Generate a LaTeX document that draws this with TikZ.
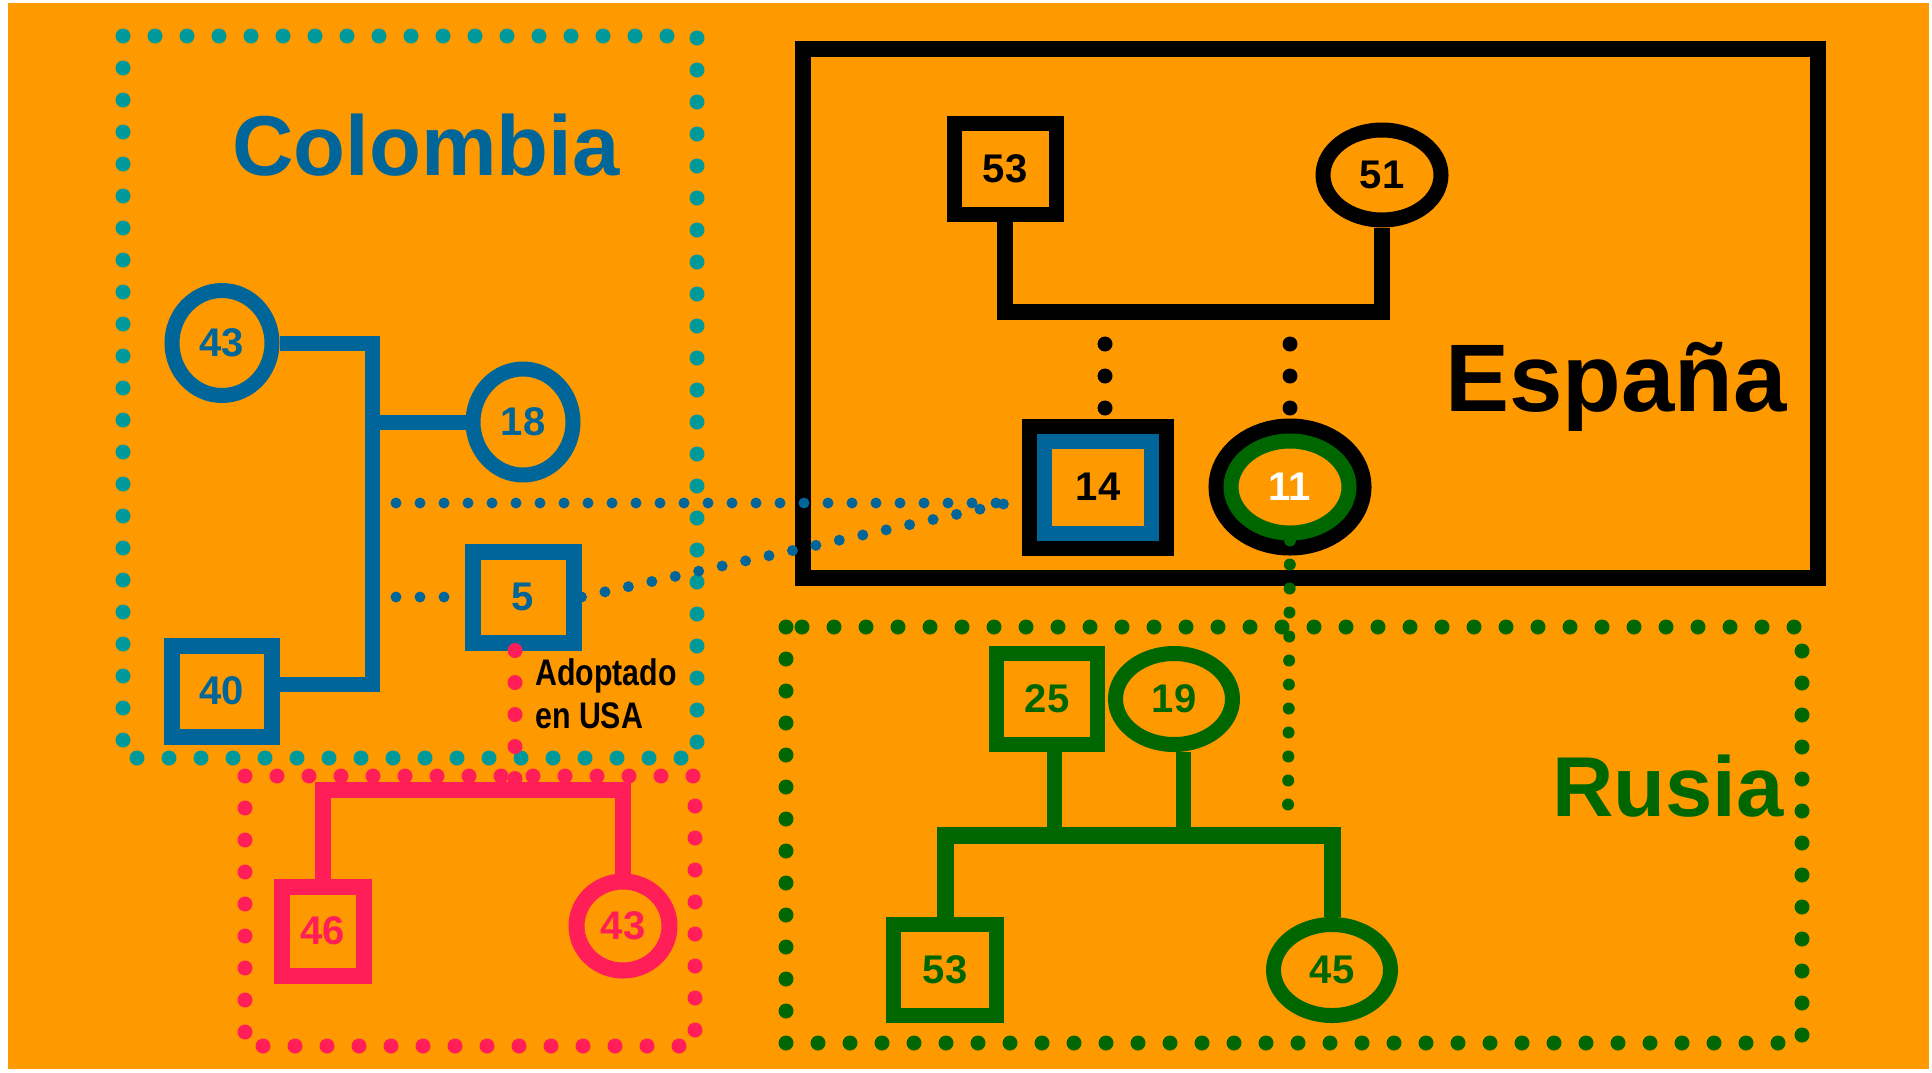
\documentclass[tikz,border=0pt]{standalone}
\usepackage{fontspec}
\setmainfont{Liberation Sans}
\newfontfamily\narrowfont[FakeStretch=0.82]{Liberation Sans}
\usepackage{tikz}
\usetikzlibrary{shapes.geometric}
\definecolor{fondo}{HTML}{FF9900}
\definecolor{azul}{HTML}{006699}
\definecolor{turquesa}{HTML}{009999}
\definecolor{rosa}{HTML}{FF1E58}
\definecolor{verde}{HTML}{006600}

\begin{document}
\begin{tikzpicture}[x=1pt, y=-1pt,
    every node/.style = {align=center, inner sep=0pt, font=\fontsize{40}{48}\selectfont\bfseries},
    male/.style = {rectangle, draw, line width=15, minimum width=102, minimum height=91},
    female/.style = {ellipse, draw, line width=15, minimum width=117, minimum height=91},
    link/.style = {line width=15, line join=miter},
    dots/.style = {line width=15, line cap=round, dash pattern=on 0pt off 32pt},
    bdots/.style = {azul, line width=11, line cap=round, dash pattern=on 0pt off 24pt},
    title/.style = {anchor=base, font=\fontsize{85}{100}\selectfont\bfseries}]
    \useasboundingbox (0,0) rectangle (1932,1072);
    \fill[white] (0,0) rectangle (1932,1072);
    \fill[fondo] (8,3) rectangle (1929,1069);

    \draw[dots, turquesa] (123,36) rectangle (697,758);
    \draw[dots, rosa] (245,776) rectangle (695,1046);
    \draw[black, line width=16] (803,49) rectangle (1818,578);
    \draw[dots, verde] (786,627) rectangle (1802,1043);

    \coordinate (ctop) at (372,343);
    \coordinate (cbot) at (372,684);
    \coordinate (pbar) at (470,790);
    \coordinate (ebar) at (1190,312);
    \coordinate (rbar) at (1140,835);
    \coordinate (adopt) at (1008,503);
    \coordinate (rlink) at (1288,807);

    \node[female, azul, minimum width=100, minimum height=105] (c43) at (222,343) {43};
    \node[female, azul, minimum width=100, minimum height=106] (c18) at (523,422) {18};
    \node[male, azul, line width=16, minimum width=100] (c40) at (222,691) {40};
    \node[male, azul, line width=16, minimum width=101] (c5) at (523,597) {5};
    \draw[link, azul] (c43.east) -- (ctop) -- (cbot) -- (cbot -| c40.east);
    \draw[link, azul] (c18.west -| ctop) -- (c18.west);

    \node[male, rosa, line width=16, minimum width=82, minimum height=89] (p46) at (323,931) {46};
    \node[female, rosa, line width=16, minimum width=93, minimum height=89] (p43) at (623,926) {43};
    \draw[link, rosa, line width=16] (p46.north) |- (pbar) -| (p43.north);

    \node[male, black, minimum width=102] (e53) at (1005,169) {53};
    \node[female, black, minimum width=118, minimum height=90] (e51) at (1382,175) {51};
    \draw[link, black, line width=16] (e53.south) |- (ebar) -| (e51.south);
    \node[male, draw=azul, fill=fondo, text=black, preaction={draw=black, line width=45},
        minimum width=107, minimum height=92] (e14) at (1098,487) {14};
    \node[female, draw=verde, fill=fondo, text=white, preaction={draw=black, line width=45},
        minimum width=118, minimum height=92] (e11) at (1290,487) {11};
    \draw[dots, black] ([xshift=7]e14.north |- ebar) -- ([xshift=7]e14.north);
    \draw[dots, black] (e11.north |- ebar) -- (e11.north);

    \node[male, verde, minimum width=101] (r25) at (1047,699) {25};
    \node[female, verde] (r19) at (1174,699) {19};
    \node[male, verde, minimum width=103] (r53) at (945,970) {53};
    \node[female, verde] (r45) at (1332,970) {45};
    \draw[link, verde, line width=17] (r53.north) |- (rbar) -| (r45.north);
    \draw[link, verde] ([xshift=7]r25.south) -- ([xshift=7]r25.south |- rbar);
    \draw[link, verde] ([xshift=9]r19.south) -- ([xshift=9]r19.south |- rbar);

    \draw[bdots] (ctop |- adopt) -- (adopt);
    \draw[bdots] (c5.west -| ctop) -- (c5.west);
    \draw[bdots] (c5.east) -- (adopt);
    \draw[dots, rosa] ([xshift=-8]c5.south) -- ([xshift=-8]c5.south |- pbar);
    \draw[verde, line width=12, line cap=round, dash pattern=on 0pt off 24pt] (e11.south) -- (rlink);

    \node[title, azul] (colombia) at (426,175) {Colombia};
    \node[title, black, font=\fontsize{96}{110}\selectfont\bfseries] (espana) at (1616,411) {España};
    \node[title, verde] (rusia) at (1668,816) {Rusia};
    \node[anchor=base west, font=\narrowfont\bfseries\fontsize{37}{44}\selectfont] (adopt1) at (535,685) {Adoptado};
    \node[anchor=base west, font=\narrowfont\bfseries\fontsize{37}{44}\selectfont] (adopt2) at (535,728) {en USA};
\end{tikzpicture}
\end{document}
